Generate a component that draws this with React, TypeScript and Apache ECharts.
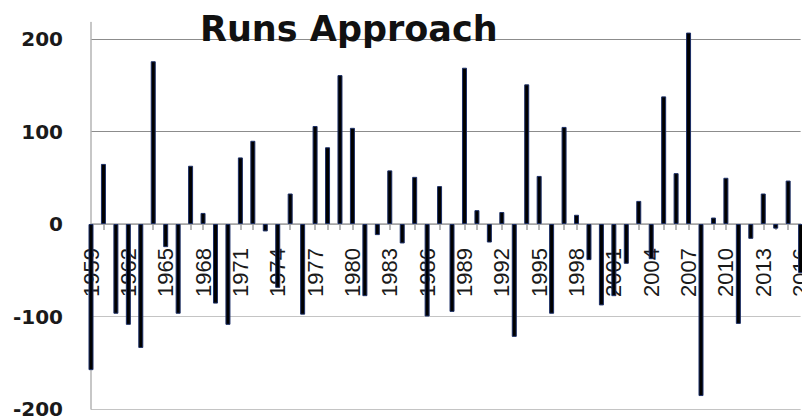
import React, { useEffect, useRef } from "react";
import * as echarts from "echarts";

const years: string[] = [];
for (let y = 1959; y <= 2016; y++) years.push(String(y));

const runs: number[] = [
  -158, 65, -97, -109, -134, 176, -25, -97, 63, 12,
  -86, -109, 72, 90, -8, -69, 33, -98, 106, 83,
  161, 104, -78, -12, 58, -21, 51, -100, 41, -95,
  169, 15, -20, 13, -122, 151, 52, -97, 105, 10,
  -39, -88, -78, -43, 25, -38, 138, 55, 207, -186,
  7, 50, -108, -16, 33, -5, 47, -53,
];

const yTicks = [-200, -100, 0, 100, 200];
const yTop = 218;
const titleText = "Runs Approach";

export default function App() {
  const ref = useRef<HTMLDivElement>(null);
  useEffect(() => {
    if (!ref.current) return;
    const chart = echarts.init(ref.current, undefined, { renderer: "svg" });
    const gridTop = 22.4;
    const gridBottom = 7;
    const gridHeight = 416 - gridTop - gridBottom;
    const zeroOffset = -gridHeight * (0 - yTicks[0]) / (yTop - yTicks[0]);
    chart.setOption({
      animation: false,
      backgroundColor: "#ffffff",
      title: {
        text: titleText,
        left: 195,
        top: 6,
        textStyle: {
          fontFamily: "DejaVu Sans",
          fontWeight: "bold",
          fontSize: 35,
          color: "#111111",
        },
      },
      grid: {
        left: 91,
        top: gridTop,
        right: 1.4,
        bottom: gridBottom,
        containLabel: false,
        outerBoundsMode: "none",
      },
      xAxis: {
        type: "category",
        data: years,
        boundaryGap: false,
        position: "bottom",
        offset: zeroOffset,
        axisLine: { onZero: false, lineStyle: { color: "#a6a6a6", width: 1.5 } },
        axisTick: { show: true, interval: 0, length: 6, lineStyle: { color: "#a0a0a0", width: 1.5 } },
        axisLabel: {
          interval: 2,
          rotate: 90,
          margin: 24,
          fontFamily: "Liberation Sans",
          fontSize: 22,
          color: "#1a1a1a",
          hideOverlap: false,
        },
        splitLine: { show: false },
      },
      yAxis: {
        type: "value",
        min: yTicks[0],
        max: yTop,
        interval: 100,
        axisLine: { show: true, lineStyle: { color: "#b4b4b4", width: 1.5 } },
        axisTick: { show: false },
        axisLabel: {
          margin: 28,
          showMaxLabel: false,
          formatter: (v: number) => (yTicks.indexOf(v) >= 0 ? String(v) : ""),
          fontFamily: "DejaVu Sans",
          fontWeight: "bold",
          fontSize: 20,
          color: "#1a1a1a",
        },
        splitLine: {
          show: true,
          lineStyle: {
            color: ["#c4c4c4", "#c4c4c4", "#a6a6a6", "#8c8c8c", "#8c8c8c", "rgba(0,0,0,0)"],
            width: 1,
          },
        },
      },
      series: [
        {
          type: "bar",
          data: runs,
          barWidth: 5,
          clip: true,
          itemStyle: { color: "#000000", borderColor: "#1c2f66", borderWidth: 1 },
        },
      ],
    });
    return () => chart.dispose();
  }, []);
  return (
    <div
      ref={ref}
      style={{ position: "absolute", left: 0, top: 0, width: 802, height: 416 }}
    />
  );
}
